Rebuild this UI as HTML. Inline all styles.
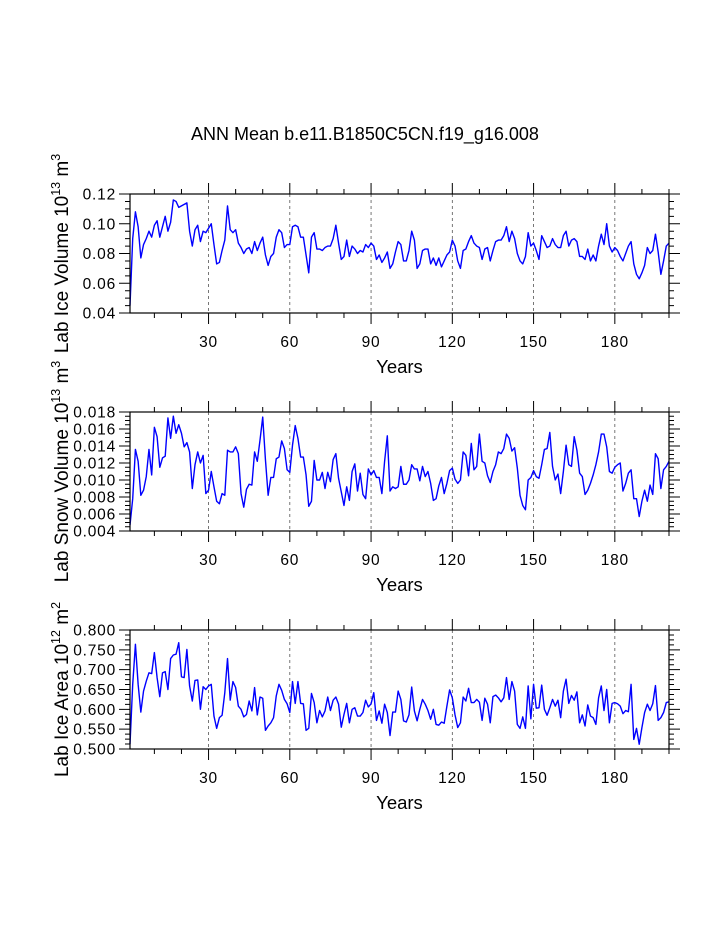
<!DOCTYPE html>
<html><head><meta charset="utf-8"><style>
html,body{margin:0;padding:0;background:#fff;}
svg{display:block;font-family:"Liberation Sans",Arial,sans-serif;}
</style></head><body>
<svg id="chart" width="723" height="935" viewBox="0 0 723 935" xmlns="http://www.w3.org/2000/svg">
<text x="365" y="140" text-anchor="middle" font-size="18">ANN Mean b.e11.B1850C5CN.f19_g16.008</text>
</svg>
<script>
const xTicks = [30, 60, 90, 120, 150, 180];
const iceVolume = [
0.045,0.090,0.108,0.098,0.077,0.086,0.090,0.095,0.091,0.099,
0.102,0.091,0.098,0.105,0.095,0.101,0.116,0.115,0.111,0.112,
0.113,0.114,0.095,0.085,0.096,0.099,0.088,0.095,0.094,0.097,
0.100,0.086,0.073,0.074,0.082,0.089,0.112,0.096,0.094,0.096,
0.087,0.084,0.080,0.083,0.084,0.080,0.088,0.082,0.087,0.091,
0.079,0.072,0.078,0.080,0.091,0.096,0.094,0.084,0.086,0.086,
0.098,0.099,0.098,0.091,0.091,0.079,0.067,0.091,0.094,0.083,
0.083,0.082,0.084,0.085,0.085,0.090,0.099,0.087,0.076,0.078,
0.089,0.078,0.085,0.083,0.080,0.082,0.081,0.086,0.084,0.087,
0.085,0.076,0.079,0.074,0.077,0.081,0.070,0.073,0.081,0.088,
0.086,0.075,0.075,0.082,0.095,0.089,0.070,0.073,0.082,0.083,
0.083,0.073,0.077,0.072,0.077,0.071,0.075,0.079,0.081,0.089,
0.085,0.075,0.070,0.082,0.083,0.088,0.092,0.087,0.085,0.084,
0.076,0.083,0.084,0.075,0.082,0.088,0.089,0.089,0.092,0.098,
0.088,0.095,0.090,0.080,0.075,0.073,0.078,0.094,0.085,0.087,
0.082,0.076,0.092,0.088,0.084,0.085,0.090,0.086,0.084,0.084,
0.092,0.095,0.085,0.089,0.090,0.088,0.078,0.078,0.076,0.083,
0.075,0.079,0.075,0.085,0.093,0.086,0.100,0.085,0.081,0.084,
0.082,0.078,0.075,0.080,0.085,0.088,0.073,0.066,0.063,0.067,
0.072,0.084,0.080,0.082,0.093,0.081,0.066,0.075,0.085,0.087];
const snowVolume = [
0.0047,0.0078,0.0136,0.0122,0.0082,0.0088,0.0104,0.0136,0.0106,0.0162,
0.0151,0.0115,0.0126,0.0128,0.0173,0.0149,0.0175,0.0155,0.0165,0.0155,
0.0139,0.0144,0.0133,0.0090,0.0118,0.0133,0.0120,0.0129,0.0084,0.0088,
0.0110,0.0092,0.0075,0.0072,0.0084,0.0082,0.0135,0.0133,0.0133,0.0139,
0.0131,0.0084,0.0068,0.0089,0.0095,0.0094,0.0133,0.0122,0.0147,0.0174,
0.0124,0.0082,0.0103,0.0103,0.0125,0.0127,0.0146,0.0137,0.0112,0.0109,
0.0141,0.0164,0.0149,0.0127,0.0127,0.0106,0.0069,0.0075,0.0123,0.0100,
0.0100,0.0109,0.0090,0.0109,0.0098,0.0124,0.0131,0.0102,0.0086,0.0070,
0.0092,0.0076,0.0110,0.0119,0.0087,0.0108,0.0083,0.0078,0.0113,0.0106,
0.0111,0.0103,0.0103,0.0084,0.0122,0.0152,0.0087,0.0092,0.0090,0.0092,
0.0116,0.0095,0.0095,0.0100,0.0118,0.0113,0.0113,0.0099,0.0116,0.0104,
0.0110,0.0096,0.0076,0.0078,0.0093,0.0103,0.0084,0.0096,0.0111,0.0114,
0.0101,0.0096,0.0100,0.0133,0.0129,0.0105,0.0143,0.0112,0.0116,0.0154,
0.0122,0.0120,0.0105,0.0097,0.0110,0.0118,0.0133,0.0131,0.0137,0.0154,
0.0149,0.0134,0.0138,0.0114,0.0082,0.0070,0.0065,0.0100,0.0103,0.0111,
0.0104,0.0102,0.0118,0.0136,0.0137,0.0156,0.0116,0.0100,0.0107,0.0084,
0.0110,0.0141,0.0118,0.0116,0.0151,0.0135,0.0108,0.0104,0.0083,0.0088,
0.0096,0.0106,0.0118,0.0133,0.0154,0.0154,0.0139,0.0110,0.0108,0.0115,
0.0118,0.0120,0.0087,0.0096,0.0108,0.0112,0.0078,0.0078,0.0057,0.0075,
0.0088,0.0075,0.0094,0.0083,0.0131,0.0125,0.0090,0.0112,0.0116,0.0122];
const iceArea = [
0.512,0.663,0.764,0.663,0.593,0.646,0.671,0.692,0.690,0.743,
0.680,0.632,0.692,0.695,0.650,0.728,0.737,0.739,0.768,0.682,
0.680,0.751,0.659,0.621,0.673,0.674,0.600,0.657,0.650,0.659,
0.663,0.583,0.552,0.579,0.585,0.642,0.728,0.623,0.670,0.655,
0.608,0.600,0.581,0.587,0.621,0.596,0.655,0.586,0.631,0.628,
0.547,0.558,0.566,0.579,0.634,0.663,0.648,0.625,0.614,0.592,
0.670,0.615,0.670,0.615,0.614,0.547,0.552,0.640,0.617,0.566,
0.597,0.581,0.596,0.631,0.597,0.623,0.631,0.613,0.555,0.587,
0.615,0.566,0.600,0.604,0.583,0.583,0.592,0.623,0.606,0.614,
0.642,0.572,0.596,0.565,0.613,0.592,0.534,0.593,0.593,0.646,
0.625,0.571,0.568,0.586,0.656,0.596,0.571,0.600,0.625,0.613,
0.597,0.575,0.600,0.562,0.560,0.568,0.565,0.608,0.649,0.629,
0.586,0.554,0.566,0.631,0.621,0.653,0.617,0.617,0.625,0.618,
0.572,0.628,0.613,0.566,0.632,0.636,0.629,0.619,0.629,0.680,
0.625,0.670,0.646,0.562,0.552,0.581,0.552,0.659,0.576,0.663,
0.603,0.604,0.661,0.600,0.585,0.604,0.625,0.608,0.623,0.579,
0.646,0.676,0.615,0.635,0.623,0.644,0.566,0.586,0.558,0.611,
0.583,0.579,0.562,0.629,0.659,0.597,0.650,0.566,0.615,0.617,
0.614,0.608,0.589,0.597,0.594,0.663,0.524,0.552,0.512,0.554,
0.592,0.613,0.597,0.614,0.660,0.572,0.579,0.592,0.617,0.619];
const iceTicks = ["0.04","0.06","0.08","0.10","0.12"];
const snowTicks = ["0.004","0.006","0.008","0.010","0.012","0.014","0.016","0.018"];
const areaTicks = ["0.500","0.550","0.600","0.650","0.700","0.750","0.800"];

const NS = "http://www.w3.org/2000/svg";
const svg = document.getElementById("chart");
const X0 = 130, X1 = 669, YR0 = 1, YR1 = 200;
function xs(yr){ return X0 + (yr - YR0) * (X1 - X0) / (YR1 - YR0); }
function mk(tag, attrs, parent){
  const e = document.createElementNS(NS, tag);
  for (const k in attrs) e.setAttribute(k, attrs[k]);
  (parent || svg).appendChild(e);
  return e;
}
const panels = [
  {key:"ice-volume", top:194, bot:313, min:0.04, max:0.12, ticks:iceTicks, minorStep:0.005, data:iceVolume,
   label:"Lab Ice Volume 10", sup1:"13", unit:" m", sup2:"3"},
  {key:"snow-volume", top:412, bot:531, min:0.004, max:0.018, ticks:snowTicks, minorStep:0.0005, data:snowVolume,
   label:"Lab Snow Volume 10", sup1:"13", unit:" m", sup2:"3"},
  {key:"ice-area", top:630, bot:749, min:0.5, max:0.8, ticks:areaTicks, minorStep:0.0125, data:iceArea,
   label:"Lab Ice Area 10", sup1:"12", unit:" m", sup2:"2"}
];
panels.forEach(p => {
  const g = mk("g", {});
  
  
  const ys = v => p.bot - (v - p.min) * (p.bot - p.top) / (p.max - p.min);
  xTicks.forEach(t => {
    const l = mk("line", {x1:xs(t), x2:xs(t), y1:p.top, y2:p.bot, stroke:"#555", "stroke-width":0.8, "stroke-dasharray":"3,3"}, g);
    
    
  });
  const pts = p.data.map((v, i) => xs(YR0 + i).toFixed(2) + "," + ys(v).toFixed(2)).join(" ");
  const line = mk("polyline", {points:pts, fill:"none", stroke:"#0000ff", "stroke-width":1.4, "stroke-linejoin":"round"}, g);
  
  
  const fr = mk("rect", {x:X0, y:p.top, width:X1 - X0, height:p.bot - p.top, fill:"none", stroke:"#000", "stroke-width":1.2}, g);
  
  
  let tk = "";
  for (let yr = 10; yr <= 200; yr += 10) {
    const x = xs(yr), len = (yr % 30 === 0) ? 11 : 5;
    tk += `M${x},${p.top}v${-len}M${x},${p.bot}v${len}`;
  }
  const nMin = Math.round((p.max - p.min) / p.minorStep);
  const perMajor = Math.round((p.max - p.min) / (p.ticks.length - 1) / p.minorStep);
  for (let i = 0; i <= nMin; i++) {
    const y = ys(p.min + i * p.minorStep), len = (i % perMajor === 0) ? 11 : 5;
    tk += `M${X0},${y}h${-len}M${X1},${y}h${len}`;
  }
  const ticks = mk("path", {d:tk, stroke:"#000", "stroke-width":1, fill:"none"}, g);
  
  
  p.ticks.forEach(t => {
    const tx = mk("text", {x:116, y:ys(parseFloat(t)) + 5.5, "text-anchor":"end", "font-size":15.5, "letter-spacing":"0.8"}, g);
    tx.textContent = t;
    
    
  });
  xTicks.forEach(t => {
    const tx = mk("text", {x:xs(t), y:p.bot + 34, "text-anchor":"middle", "font-size":15.5, "letter-spacing":"0.8"}, g);
    tx.textContent = t;
    
    
  });
  const xt = mk("text", {x:(X0 + X1) / 2, y:p.bot + 60, "text-anchor":"middle", "font-size":18.5}, g);
  xt.textContent = "Years";
  
  
  const cy = (p.top + p.bot) / 2;
  const yt = mk("text", {x:0, y:0, "text-anchor":"middle", "font-size":19, transform:`translate(68,${cy}) rotate(-90)`}, g);
  
  
  const t1 = mk("tspan", {}, yt); t1.textContent = p.label;
  const t2 = mk("tspan", {dy:-8, "font-size":12.5}, yt); t2.textContent = p.sup1;
  const t3 = mk("tspan", {dy:8}, yt); t3.textContent = p.unit;
  const t4 = mk("tspan", {dy:-8, "font-size":12.5}, yt); t4.textContent = p.sup2;
});
</script>
</body></html>
